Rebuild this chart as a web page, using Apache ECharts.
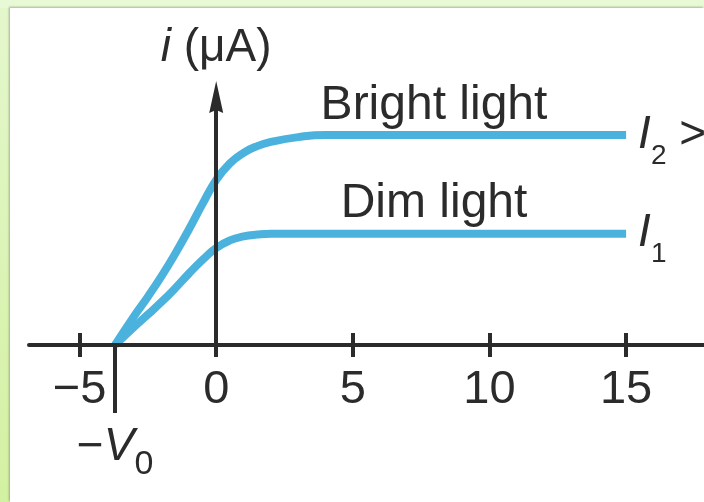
<!DOCTYPE html>
<html>
<head>
<meta charset="utf-8">
<script src="https://cdn.jsdelivr.net/npm/echarts@6/dist/echarts.min.js"></script>
<style>
  html, body { margin: 0; padding: 0; width: 704px; height: 502px; overflow: hidden; background: #e8f9d5; }
  #strip { position: absolute; left: 0; top: 8px; width: 10px; bottom: 0; background: linear-gradient(#e4f7cc, #d3f1a2); }
  #panel { position: absolute; left: 10px; top: 8px; right: 0; bottom: 0; background: #ffffff; box-shadow: -1px -1px 2px rgba(0,0,0,0.28); }
  #chart { position: absolute; left: 0; top: 0; width: 704px; height: 502px; }
</style>
</head>
<body>
<div id="strip"></div>
<div id="panel"></div>
<div id="chart"></div>
<script>
// Photoelectric current vs. applied voltage for two light intensities
const voltage       = [-3.7, -3, -2.5, -2, -1.5, -1, -0.5, 0, 0.5, 1, 1.5, 2, 3, 4, 15];
const brightCurrent = [0, 1.38, 2.3, 3.28, 4.35, 5.5, 6.72, 7.86, 8.65, 9.15, 9.47, 9.67, 9.9, 10, 10];
const dimCurrent    = [0, 0.87, 1.45, 2.05, 2.7, 3.4, 4.05, 4.62, 4.98, 5.17, 5.26, 5.3, 5.3, 5.3, 5.3];
const curveNames    = ['Bright light', 'Dim light'];
const xTicks        = [-5, 0, 5, 10, 15];
const stoppingVoltage = -3.7;   // −V0
const captionVoltage  = 7.97;   // where the curve captions sit along the plateau

const FONT = '"Liberation Sans", Arial, Helvetica, sans-serif';
const INK = '#2b2b2b';
const CURVE = '#4ab2dc';
const X_MIN = -6.85, X_MAX = 17.85;

function pairs(ys) { return voltage.map((v, i) => [v, ys[i]]); }
function signed(v) { return v < 0 ? '\u2212' + Math.abs(v) : String(v); }

// Rich styles: a tall line box lets a bottom-aligned subscript drop below the baseline
function richSet(lineH, subSize, subLineH) {
  const base = { fontSize: 46, lineHeight: lineH, fontFamily: FONT, color: INK };
  return {
    it: Object.assign({}, base, { fontStyle: 'italic' }),
    n:  Object.assign({}, base),
    s:  { fontSize: subSize, lineHeight: subLineH, verticalAlign: 'bottom', fontFamily: FONT, color: INK }
  };
}
const richName = richSet(46, 28, 46);
const richEnd  = richSet(70, 28, 37);
const richV0   = richSet(70, 34, 4);

function plateauCaption(text, level, dy) {
  return {
    symbol: 'circle', symbolSize: 0, silent: true,
    data: [{
      coord: [captionVoltage, level],
      label: { show: true, position: 'inside', offset: [0, dy], formatter: text,
               fontSize: 48, fontFamily: FONT, color: INK }
    }]
  };
}

const chart = echarts.init(document.getElementById('chart'), null, { renderer: 'canvas' });
chart.setOption({
  animation: false,
  backgroundColor: 'transparent',
  grid: { left: 29, right: 0, top: 93, bottom: 157, containLabel: false, outerBoundsMode: 'none' },
  xAxis: [
    { // main voltage axis, ticks hanging below
      type: 'value', min: X_MIN, max: X_MAX, position: 'bottom', z: 5,
      axisLine: { show: true, lineStyle: { color: INK, width: 4 } },
      axisTick: { show: true, customValues: xTicks, length: 12, lineStyle: { color: INK, width: 4 } },
      axisLabel: { show: true, customValues: xTicks, margin: 22, formatter: signed,
                   fontSize: 47, fontFamily: FONT, color: INK },
      splitLine: { show: false }
    },
    { // upper half of the crossing ticks
      type: 'value', min: X_MIN, max: X_MAX, position: 'bottom', z: 5,
      axisLine: { show: false },
      axisTick: { show: true, inside: true, customValues: xTicks, length: 12, lineStyle: { color: INK, width: 4 } },
      axisLabel: { show: false },
      splitLine: { show: false }
    },
    { // stopping-potential marker
      type: 'value', min: X_MIN, max: X_MAX, position: 'bottom', z: 5,
      axisLine: { show: false },
      axisTick: { show: true, customValues: [stoppingVoltage], length: 68, lineStyle: { color: INK, width: 4 } },
      axisLabel: { show: true, customValues: [stoppingVoltage], margin: 67,
                   formatter: () => '{n|\u2212}{it|V}{s|0}', rich: richV0 },
      splitLine: { show: false }
    }
  ],
  yAxis: {
    type: 'value', min: 0, max: 12, z: 5,
    axisLine: { show: true, onZero: true, onZeroAxisIndex: 0,
                symbol: ['none', 'path://M0,0 L7,32 L0,29 L-7,32 Z'],
                symbolSize: [14, 32], symbolOffset: [0, -4],
                lineStyle: { color: INK, width: 4 } },
    axisTick: { show: false },
    axisLabel: { show: false },
    splitLine: { show: false },
    name: '{it|i}{n| (\u03bcA)}',
    nameLocation: 'end',
    nameGap: 22,
    nameTextStyle: { rich: richName }
  },
  series: [
    {
      type: 'line', name: curveNames[0], data: pairs(brightCurrent),
      xAxisIndex: 0, yAxisIndex: 0, z: 2,
      smooth: 0.5, symbol: 'none', showSymbol: false,
      lineStyle: { width: 8, color: CURVE },
      endLabel: { show: true, distance: 12, formatter: '{it|I}{s|2}{n| > }{it|I}{s|1}', rich: richEnd },
      markPoint: plateauCaption(curveNames[0], brightCurrent[brightCurrent.length - 1], -29)
    },
    {
      type: 'line', name: curveNames[1], data: pairs(dimCurrent),
      xAxisIndex: 0, yAxisIndex: 0, z: 2,
      smooth: 0.5, symbol: 'none', showSymbol: false,
      lineStyle: { width: 8, color: CURVE },
      endLabel: { show: true, distance: 12, formatter: '{it|I}{s|1}', rich: richEnd },
      markPoint: plateauCaption(curveNames[1], dimCurrent[dimCurrent.length - 1], -30)
    }
  ]
});
</script>
</body>
</html>
